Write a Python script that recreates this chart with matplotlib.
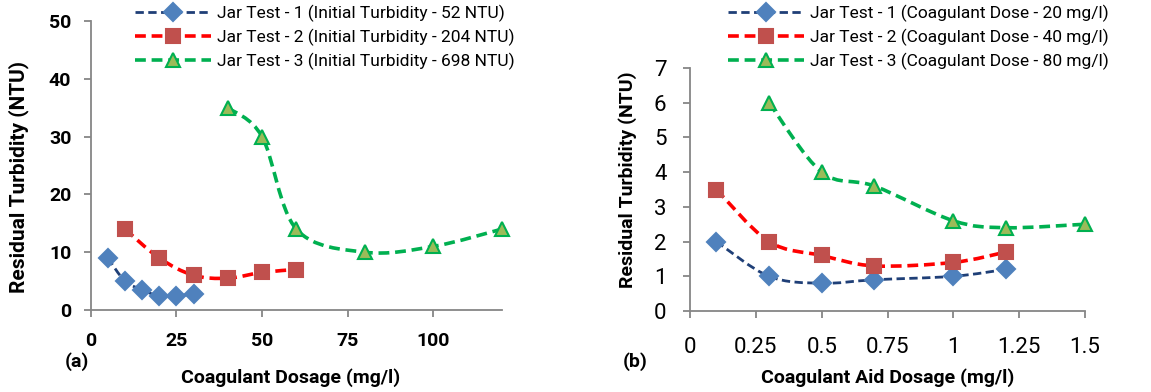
import matplotlib
matplotlib.use("Agg")
import matplotlib.pyplot as plt
import numpy as np
from matplotlib.path import Path
from matplotlib.patches import PathPatch
from matplotlib.lines import Line2D

plt.rcParams['font.family'] = ['Roboto', 'DejaVu Sans']

# --- (a) residual turbidity vs coagulant dosage
a_x1 = [5, 10, 15, 20, 25, 30]
a_y1 = [9, 5, 3.5, 2.4, 2.5, 2.7]
a_x2 = [10, 20, 30, 40, 50, 60]
a_y2 = [14, 9, 6, 5.5, 6.5, 7]
a_x3 = [40, 50, 60, 80, 100, 120]
a_y3 = [35, 30, 14, 10, 11, 14]
a_labels = ['Jar Test - 1 (Initial Turbidity - 52 NTU)',
            'Jar Test - 2 (Initial Turbidity - 204 NTU)',
            'Jar Test - 3 (Initial Turbidity - 698 NTU)']

# --- (b) residual turbidity vs coagulant aid dosage
b_x1 = [0.1, 0.3, 0.5, 0.7, 1.0, 1.2]
b_y1 = [2, 1, 0.8, 0.9, 1, 1.2]
b_x2 = [0.1, 0.3, 0.5, 0.7, 1.0, 1.2]
b_y2 = [3.5, 2, 1.6, 1.3, 1.4, 1.7]
b_x3 = [0.3, 0.5, 0.7, 1.0, 1.2, 1.5]
b_y3 = [6, 4, 3.6, 2.6, 2.4, 2.5]
b_labels = ['Jar Test - 1 (Coagulant Dose - 20 mg/l)',
            'Jar Test - 2 (Coagulant Dose - 40 mg/l)',
            'Jar Test - 3 (Coagulant Dose - 80 mg/l)']

estilos = [
    dict(lc='#1F3F77', mk='D', mfc='#4F81BD', mec='#4F81BD', ms=9, lw=2.0),
    dict(lc='#FF0000', mk='s', mfc='#C0504D', mec='#C0504D', ms=10.5, lw=2.6),
    dict(lc='#00B050', mk='^', mfc='#9BBB59', mec='#00B050', ms=10.5, lw=2.6),
]
guion = (0, (3, 1.6))


def curva_suave(ax, x, y, color, lw):
    # linea suavizada tipo excel (bezier catmull-rom)
    p = np.column_stack([x, y]).astype(float)
    n = len(p)
    verts = [p[0]]
    codes = [Path.MOVETO]
    for i in range(n - 1):
        p0 = p[i - 1] if i > 0 else p[i]
        p3 = p[i + 2] if i + 2 < n else p[i + 1]
        c1 = p[i] + (p[i + 1] - p0) / 6
        c2 = p[i + 1] - (p3 - p[i]) / 6
        verts += [c1, c2, p[i + 1]]
        codes += [Path.CURVE4] * 3
    patch = PathPatch(Path(verts, codes), fill=False, edgecolor=color, lw=lw,
                      linestyle=guion, zorder=2)
    ax.add_patch(patch)


def panel(ax, series, labels):
    handles = []
    for (x, y), st, lab in zip(series, estilos, labels):
        curva_suave(ax, x, y, st['lc'], st['lw'])
        ax.plot(x, y, linestyle='none', marker=st['mk'], ms=st['ms'],
                mfc=st['mfc'], mec=st['mec'], mew=1.5, zorder=3, clip_on=False)
        handles.append(Line2D([], [], color=st['lc'], lw=st['lw'], linestyle=guion,
                              marker=st['mk'], ms=st['ms'], mfc=st['mfc'],
                              mec=st['mec'], mew=1.5, label=lab))
    for s in ['top', 'right']:
        ax.spines[s].set_visible(False)
    for s in ['left', 'bottom']:
        ax.spines[s].set_color('#868686')
        ax.spines[s].set_linewidth(1.3)
    ax.tick_params(color='#868686', length=5, width=1.3)
    return handles


W, H = 1151, 392
fig = plt.figure(figsize=(W / 100, H / 100), dpi=100)
ax1 = fig.add_axes([0.0788, 0.2092, 0.3573, 0.7372])
ax2 = fig.add_axes([0.5995, 0.2066, 0.3432, 0.6199])

h1 = panel(ax1, [(a_x1, a_y1), (a_x2, a_y2), (a_x3, a_y3)], a_labels)
ax1.set_xlim(0, 120)
ax1.set_ylim(0, 50)
ax1.set_xticks([0, 25, 50, 75, 100])
ax1.set_yticks([0, 10, 20, 30, 40, 50])
ax1.tick_params(axis='x', pad=11)
ax1.tick_params(axis='y', pad=9)
for t in ax1.get_xticklabels() + ax1.get_yticklabels():
    t.set_fontsize(14)
    t.set_fontweight('bold')
fig.text(19 / W, 1 - 177 / H, 'Residual Turbidity (NTU)', fontsize=15, fontweight='bold',
         rotation=90, ha='center', va='center')
fig.text(291 / W, 1 - 378 / H, 'Coagulant Dosage (mg/l)', fontsize=14, fontweight='bold',
         ha='center', va='center')
fig.text(77 / W, 1 - 362 / H, '(a)', fontsize=14, fontweight='bold', ha='center', va='center')
fig.legend(handles=h1, loc='upper left', bbox_to_anchor=(135 / W, 1 - 5 / H),
           frameon=False, fontsize=12.5, handlelength=4.4, handletextpad=0.35,
           labelspacing=0.38, borderaxespad=0, borderpad=0, numpoints=1)

h2 = panel(ax2, [(b_x1, b_y1), (b_x2, b_y2), (b_x3, b_y3)], b_labels)
ax2.set_xlim(0, 1.5)
ax2.set_ylim(0, 7)
ax2.set_xticks([0, 0.25, 0.5, 0.75, 1, 1.25, 1.5])
ax2.set_xticklabels(['0', '0.25', '0.5', '0.75', '1', '1.25', '1.5'])
ax2.set_yticks(range(8))
ax2.tick_params(axis='x', pad=14, labelsize=16)
ax2.tick_params(axis='y', pad=12, labelsize=16)
fig.text(628 / W, 1 - 180 / H, 'Residual Turbidity (NTU)', fontsize=14, fontweight='bold',
         rotation=90, ha='center', va='center')
fig.text(888 / W, 1 - 378 / H, 'Coagulant Aid Dosage (mg/l)', fontsize=14, fontweight='bold',
         ha='center', va='center')
fig.text(635 / W, 1 - 362 / H, '(b)', fontsize=14, fontweight='bold', ha='center', va='center')
fig.legend(handles=h2, loc='upper left', bbox_to_anchor=(728 / W, 1 - 5 / H),
           frameon=False, fontsize=12.5, handlelength=4.4, handletextpad=0.35,
           labelspacing=0.38, borderaxespad=0, borderpad=0, numpoints=1)

fig.savefig('out.png', dpi=100)
